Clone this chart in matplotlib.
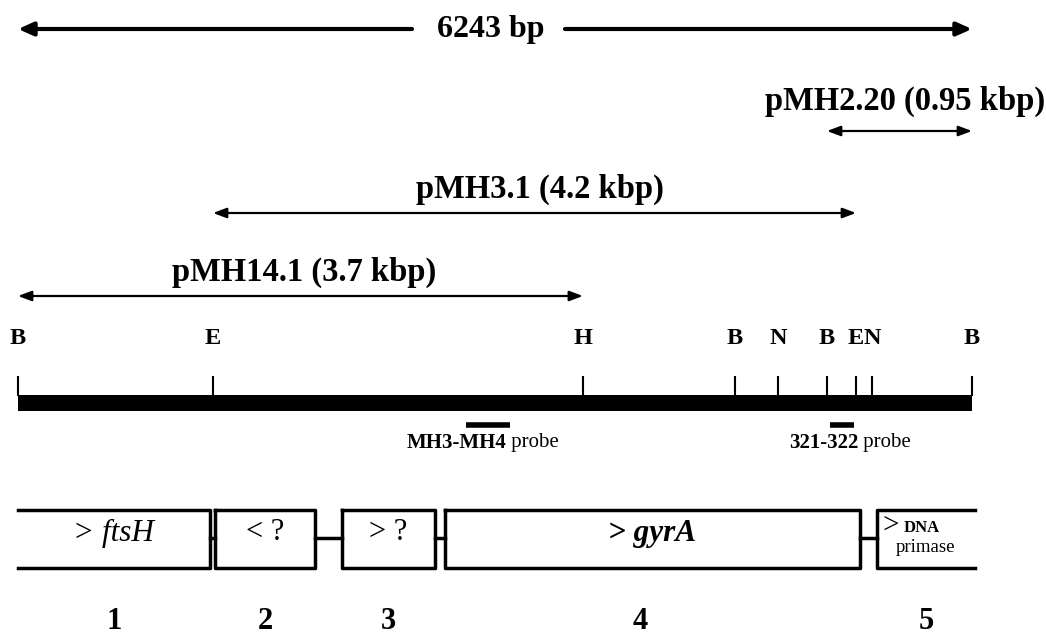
import matplotlib
matplotlib.use('Agg')
import matplotlib.pyplot as plt
from matplotlib.patches import Rectangle

plt.rcParams['font.family'] = ['Liberation Serif', 'DejaVu Serif']

# map data (bp)
total_bp = 6243
site_pos = [0, 1276, 3697, 4692, 4973, 5294, 5484, 5589, 6243]
site_names = ['B', 'E', 'H', 'B', 'N', 'B', 'E', 'N', 'B']

clone_names = ['pMH2.20 (0.95 kbp)', 'pMH3.1 (4.2 kbp)', 'pMH14.1 (3.7 kbp)']
clone_start = [5294, 1276, 0]
clone_end = [6243, 5484, 3697]

probe_names = ['MH3-MH4', '321-322']
probe_start = [2932, 5314]
probe_end = [3220, 5471]

gene_labels = ['> ftsH', '< ?', '> ?', '> gyrA', 'DNA primase']
gene_start = [0, 1289, 2120, 2794, 5621]
gene_end = [1256, 1944, 2729, 5510, 6262]
gene_numbers = ['1', '2', '3', '4', '5']

# pixel <-> bp helpers for the canvas
px0, px1 = 18, 972
def bp(px):
    return (px - px0) * total_bp / (px1 - px0)

fig = plt.figure(figsize=(10.46, 6.37), dpi=100)
ax = fig.add_axes([0, 0, 1, 1])
ax.set_xlim(bp(0), bp(1046))
ax.set_ylim(637, 0)
ax.axis('off')

# total length arrow
ax.text(bp(491), 30, '%d bp' % total_bp, ha='center', va='center',
        fontsize=23, fontweight='bold')
big = dict(arrowstyle='-|>,head_length=0.9,head_width=0.4', lw=3, color='black',
           shrinkA=0, shrinkB=0)
ax.annotate('', xy=(0, 29), xytext=(bp(412), 29), arrowprops=big)
ax.annotate('', xy=(total_bp, 29), xytext=(bp(565), 29), arrowprops=big)

# clones
clone_y = [131, 213, 296]
label_y = [101, 189, 272]
label_dx = [6, 5, 4]
small = dict(arrowstyle='<|-|>,head_length=0.8,head_width=0.3', lw=1.6, color='black',
             shrinkA=0, shrinkB=0)
for name, s, e, y, ly, dx in zip(clone_names, clone_start, clone_end, clone_y, label_y, label_dx):
    ax.annotate('', xy=(s, y), xytext=(e, y), arrowprops=small)
    ax.text((s + e) / 2 + bp(18 + dx), ly, name, ha='center', va='center',
            fontsize=23.5, fontweight='bold')

# restriction map
ax.add_patch(Rectangle((0, 395), total_bp, 16, color='black', lw=0))
for p, n in zip(site_pos, site_names):
    ax.plot([p, p], [376, 396], color='black', lw=1.5, solid_capstyle='butt')
    ax.text(p, 339, n, ha='center', va='center', fontsize=17.5, fontweight='bold')

# probes
probe_split = [bp(506), bp(858)]
for n, s, e, sp in zip(probe_names, probe_start, probe_end, probe_split):
    ax.plot([s, e], [425, 425], color='black', lw=4, solid_capstyle='butt')
    ax.text(sp, 443, n, ha='right', va='center', fontsize=15, fontweight='bold')
    ax.text(sp, 443, ' probe', ha='left', va='center', fontsize=15)

# gene boxes
top, bot = 510, 568
mid = (top + bot) / 2
for i in range(len(gene_start)):
    s, e = gene_start[i], gene_end[i]
    if i == 0:
        ax.plot([s, e, e, s], [top, top, bot, bot], color='black', lw=2.5)
    elif i == len(gene_start) - 1:
        ax.plot([e, s, s, e], [top, top, bot, bot], color='black', lw=2.5)
    else:
        ax.plot([s, e, e, s, s], [top, top, bot, bot, top], color='black', lw=2.5)
    if i < len(gene_start) - 1:
        ax.plot([e, gene_start[i + 1]], [mid - 1, mid - 1], color='black', lw=2.5)
    c = (s + e) / 2
    if i == 3:
        c -= bp(30) - bp(18)
    ax.text(c, 629, gene_numbers[i], ha='center', va='baseline', fontsize=22, fontweight='bold')

for i, lab in enumerate(gene_labels[:4]):
    c = (gene_start[i] + gene_end[i]) / 2
    arrow, name = lab.split(' ')
    if name == '?':
        ax.text(c, 533, lab, ha='center', va='center', fontsize=22)
    else:
        w = 'bold' if name == 'gyrA' else 'normal'
        ax.text(c, 533, arrow + ' ' + name, ha='center', va='center', fontsize=22.5,
                style='italic', fontweight=w)

c5 = (gene_start[4] + gene_end[4]) / 2
ax.text(bp(882), 526, '>', ha='left', va='center', fontsize=21)
ax.text(bp(904), 528, 'DNA', ha='left', va='center', fontsize=12, fontweight='bold')
ax.text(c5, 547, 'primase', ha='center', va='center', fontsize=13.5)

fig.savefig('out.png', dpi=100)
